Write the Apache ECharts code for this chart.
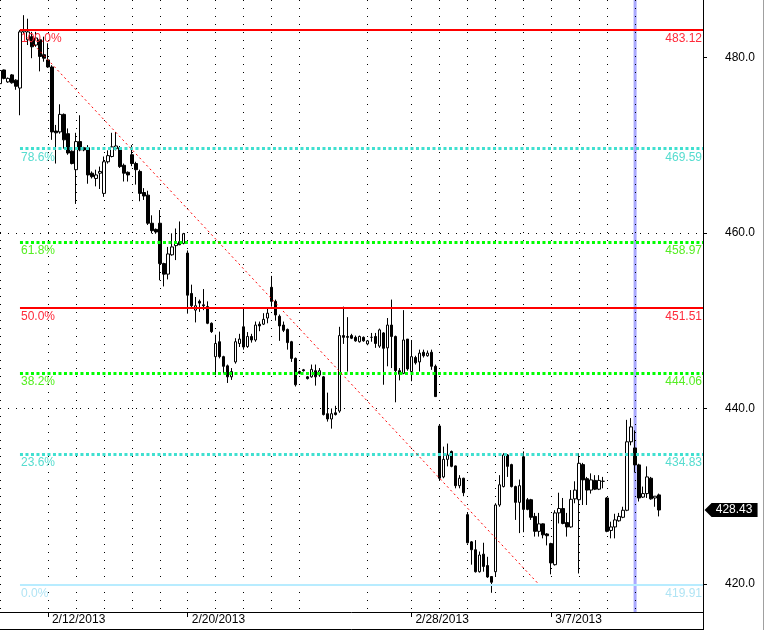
<!DOCTYPE html>
<html><head><meta charset="utf-8">
<script src="https://cdn.jsdelivr.net/npm/echarts@6/dist/echarts.min.js"></script>
<style>html,body{margin:0;padding:0;background:#fff}#c{width:768px;height:630px}</style>
</head><body><div id="c"></div>
<script>
// ---- sessions (trading days) and number of hourly bars in each ----
const sessions = ['2/11/2013','2/12/2013','2/13/2013','2/14/2013','2/15/2013','2/19/2013','2/20/2013','2/21/2013','2/22/2013','2/25/2013','2/26/2013','2/27/2013','2/28/2013','3/1/2013','3/4/2013','3/5/2013','3/6/2013','3/7/2013','3/8/2013','3/11/2013','3/12/2013'];
const barsPerSession = [12,7,7,7,7,7,7,7,7,7,17,11,7,7,7,7,7,7,7,7,7];
const labeledDates = ['2/12/2013','2/20/2013','2/28/2013','3/7/2013'];

// ---- OHLC values ----
const open = [477.0,478.56,477.2,478.0,477.4,476.5,482.9,482.0,482.35,481.4,482.0,480.3,479.7,478.9,471.6,471.5,473.5,471.3,469.3,467.2,
470.4,469.7,469.7,466.8,466.2,466.8,464.5,468.1,468.7,469.6,469.7,467.7,466.9,468.9,467.9,467.0,464.6,464.3,461.1,460.4,
461.1,456.5,455.3,457.5,458.55,459.0,458.8,457.7,453.1,451.2,452.2,451.8,451.6,449.7,445.9,447.6,445.9,444.85,443.6,445.3,
447.4,449.3,447.05,448.2,447.8,449.6,449.6,450.3,453.8,452.2,450.5,449.5,449.0,447.6,445.7,444.2,444.4,443.6,443.6,444.3,
443.8,443.6,439.4,438.8,439.5,439.7,448.3,448.2,448.3,448.1,447.6,448.1,447.35,448.1,448.2,447.1,448.6,446.9,449.5,448.2,
444.3,444.0,447.9,444.2,445.8,445.3,446.4,446.0,446.4,444.8,438.0,432.2,434.2,435.1,433.45,431.2,432.05,427.9,424.8,423.9,
421.4,423.4,422.1,420.85,421.4,429.0,431.1,434.7,433.6,431.1,429.3,434.5,429.6,429.6,427.7,426.0,426.85,425.7,424.6,422.2,
428.1,428.6,427.0,426.5,429.7,429.6,433.6,432.0,430.7,431.8,430.8,431.7,429.8,426.1,426.5,427.2,427.6,428.4,436.2,435.5,
433.57,429.9,430.3,432.05,429.8,430.15];
const high = [478.6,478.6,477.7,478.1,477.5,483.1,484.8,484.4,482.9,482.9,482.1,482.35,481.6,479.1,472.3,474.65,473.6,471.9,469.4,471.4,
473.4,469.8,470.0,467.0,467.2,467.55,468.7,469.4,471.4,471.5,469.9,467.9,467.0,470.0,468.1,467.2,465.1,464.8,462.0,460.5,
462.6,456.6,458.4,459.95,460.5,461.3,460.0,458.0,454.1,452.7,452.4,453.6,452.2,449.8,448.4,448.75,446.0,445.0,444.6,448.0,
448.5,451.5,448.7,448.5,449.9,449.9,450.85,451.4,455.1,452.4,450.7,449.9,449.1,447.7,445.8,444.3,444.5,443.7,445.0,445.0,
444.6,443.7,441.8,440.0,440.3,449.3,451.6,450.4,448.5,448.3,448.3,448.2,447.8,448.6,448.6,449.1,448.7,450.3,452.4,448.3,
444.6,451.2,447.9,447.8,446.0,446.7,446.7,446.6,446.7,445.0,438.1,435.65,436.0,435.2,433.5,432.4,432.1,428.1,424.9,425.0,
423.7,424.7,423.1,420.9,429.2,432.4,434.9,434.8,433.7,431.2,431.9,435.1,429.8,429.7,428.1,428.1,426.9,425.8,424.7,428.4,
430.4,429.8,428.1,430.7,431.7,434.9,433.8,432.2,432.6,432.4,432.4,432.2,429.9,427.1,428.0,428.1,428.8,438.7,438.9,437.5,
433.7,431.1,433.4,432.2,430.0,430.3];
const low = [476.9,477.5,477.1,477.0,476.3,473.4,482.7,481.4,479.9,481.2,478.4,479.5,478.8,470.6,467.9,471.3,469.6,468.9,467.8,463.3,
469.3,469.3,465.6,466.2,465.3,465.0,464.1,467.9,468.6,469.4,467.4,465.85,465.85,467.6,465.5,463.6,463.75,460.9,459.95,459.9,
454.6,453.9,454.7,457.4,456.9,458.6,458.7,450.8,451.5,449.8,451.0,451.2,449.6,448.6,443.8,445.7,444.0,442.9,443.25,445.1,
447.0,446.7,446.9,447.5,447.6,448.8,449.5,449.7,451.6,450.0,447.7,448.7,446.7,445.3,442.5,443.9,444.2,443.3,443.5,442.6,
443.6,439.2,438.5,437.7,439.2,439.5,447.35,444.2,447.9,447.6,447.5,447.6,447.2,447.6,446.9,446.9,442.7,444.8,444.6,440.7,
443.2,443.9,444.3,443.1,445.0,444.2,445.8,445.9,444.4,441.3,431.8,432.05,433.4,433.3,430.9,430.9,430.0,424.6,422.2,421.3,
421.3,421.4,420.7,419.0,420.85,428.8,431.0,432.2,431.0,427.3,425.8,425.9,428.4,427.3,425.4,425.4,425.2,424.4,421.1,422.1,
426.9,426.8,425.4,426.4,429.2,421.2,429.0,429.0,430.3,430.7,430.7,430.9,425.9,425.2,425.2,427.1,427.5,428.3,435.8,432.7,
429.4,429.8,429.8,429.6,428.8,427.7];
const close = [478.5,477.6,477.6,477.1,476.7,482.9,483.1,482.9,481.2,482.2,480.1,479.9,478.9,471.5,471.4,473.5,470.6,469.1,467.9,470.4,
469.45,469.45,466.6,466.4,466.6,467.0,468.1,468.8,469.8,469.9,467.55,466.8,466.6,467.9,467.2,464.5,464.2,461.1,460.25,460.1,
456.5,455.3,457.6,458.4,458.8,458.65,459.9,452.9,451.7,451.7,452.0,451.7,449.7,448.75,447.4,445.9,444.8,443.6,444.2,447.6,
447.9,447.0,448.2,447.8,449.5,449.4,450.15,450.85,452.2,450.65,449.4,448.9,447.5,445.7,442.7,444.0,444.3,443.4,444.45,443.6,
444.3,439.3,438.8,439.4,439.3,448.3,448.1,448.1,448.0,447.7,448.2,447.7,447.7,448.1,447.4,448.95,446.85,449.5,448.2,444.3,
443.9,447.8,444.5,445.9,445.2,446.3,446.0,446.3,444.8,441.35,432.05,434.2,434.7,433.4,431.2,432.05,430.4,424.7,423.9,421.4,
423.3,422.0,420.8,420.2,429.0,431.3,434.7,433.4,431.1,429.3,431.2,428.5,428.5,427.6,426.0,426.85,425.6,425.5,422.4,428.1,
428.6,426.9,426.5,429.65,430.7,433.75,431.86,430.7,431.86,430.8,431.8,431.7,426.0,426.5,427.3,427.7,428.4,436.2,437.9,433.57,
429.8,430.3,432.2,429.7,430.0,428.43];

// ---- Fibonacci retracement levels ----
const fibPercents = ['100.0%','78.6%','61.8%','50.0%','38.2%','23.6%','0.0%'];
const fibValues = [483.12,469.59,458.97,451.51,444.06,434.83,419.91];
const yTickValues = [420,440,460,480];
const cursorDate = '3/12/2013';
const trendFrom = {date:'2/11/2013', bar:6, value:483.12};
const trendTo = {date:'3/6/2013', bar:5, value:419.91};

// ---- build categories ----
const TOTAL = 177;
const categories = [];
const sessionStart = new Set();
const labelIdx = new Set();
const startOf = {};
sessions.forEach((d, s) => {
  for (let k = 0; k < barsPerSession[s]; k++) {
    if (k === 0) {
      sessionStart.add(categories.length);
      startOf[d] = categories.length;
      if (labeledDates.includes(d)) labelIdx.add(categories.length);
    }
    categories.push(d + ' #' + (k + 1));
  }
});
const nBars = categories.length;
while (categories.length < TOTAL) categories.push('pad ' + categories.length);

const yMin = 416.81, yMax = 486.53;
const FONT = 'Liberation Sans, Arial, sans-serif';

const fibStyle = [
  {c:'#ff0000', t:'#ff2a3a', w:2, type:'solid'},
  {c:'#40e0d0', t:'#55dccf', w:3, type:[3,2.5]},
  {c:'#00ff00', t:'#55ee22', w:3, type:[3,2.5]},
  {c:'#ff0000', t:'#ff2a3a', w:2, type:'solid'},
  {c:'#00ff00', t:'#55ee22', w:3, type:[3,2.5]},
  {c:'#40e0d0', t:'#55dccf', w:3, type:[3,2.5]},
  {c:'#b8ecff', t:'#b0e4f4', w:2, type:'solid'}
];
const fibStartIdx = trendFrom.bar - 1 + startOf[trendFrom.date];
const mlData = [];
fibValues.forEach((v, k) => {
  const s = fibStyle[k];
  mlData.push([
    {coord:[fibStartIdx, v], lineStyle:{color:s.c, width:s.w, type:s.type},
     label:{show:true, formatter:fibPercents[k], position:'insideStartBottom', distance:[1,3], color:s.t, fontSize:12, fontFamily:FONT}},
    {coord:[TOTAL-1, v]}
  ]);
  mlData.push([
    {coord:[fibStartIdx, v], lineStyle:{color:'rgba(0,0,0,0)', width:1, type:'solid'},
     label:{show:true, formatter:v.toFixed(2), position:'insideEndBottom', distance:[1,3], color:s.t, fontSize:12, fontFamily:FONT}},
    {coord:[TOTAL-1, v]}
  ]);
});
mlData.push([
  {coord:[fibStartIdx, trendFrom.value], lineStyle:{color:'#ff0000', width:1, type:[2,3]}, label:{show:false}},
  {coord:[startOf[trendTo.date] + trendTo.bar - 1, trendTo.value]}
]);

const cursorIdx = startOf[cursorDate];
const lastPrice = close[close.length - 1];

const chart = echarts.init(document.getElementById('c'), null, {renderer:'canvas'});
chart.setOption({
  animation:false,
  backgroundColor:'#fff',
  grid:{left:0, top:0, width:703, height:612, show:false},
  xAxis:{
    type:'category', data:categories, boundaryGap:false, z:1,
    axisLine:{show:true, lineStyle:{color:'#000', width:1}},
    axisTick:{show:true, interval:(i)=>labelIdx.has(i), length:5, lineStyle:{color:'#000'}},
    axisLabel:{interval:(i)=>labelIdx.has(i), formatter:(v)=>v.split(' #')[0], align:'left', padding:[0,0,0,4], margin:2, color:'#000', fontSize:12, fontFamily:FONT},
    splitLine:{show:true, interval:(i)=>sessionStart.has(i), lineStyle:{color:'#000', width:1, type:[1,7]}}
  },
  yAxis:{
    type:'value', position:'right', min:yMin, max:yMax, splitNumber:3, z:1,
    axisLine:{show:true, lineStyle:{color:'#000', width:1}},
    axisTick:{show:true, customValues:yTickValues, length:4, lineStyle:{color:'#000'}},
    axisLabel:{customValues:yTickValues, formatter:(v)=>Number(v).toFixed(1), margin:22, color:'#000', fontSize:12, fontFamily:FONT},
    splitLine:{show:true, showMinLine:false, showMaxLine:false, lineStyle:{color:'#000', width:1, type:[1,7]}}
  },
  series:[
    {type:'bar', name:'cursor', z:0, silent:true, barWidth:3,
     data:categories.map((c,i)=> i===cursorIdx ? yMax : null),
     itemStyle:{color:'#a9a9ff'}},
    {type:'candlestick', name:'price', z:2, barWidth:3,
     data:open.map((o,i)=>[o, close[i], low[i], high[i]]),
     itemStyle:{color:'#ffffff', color0:'#000000', borderColor:'#000000', borderColor0:'#000000', borderWidth:1}},
    {type:'line', name:'fib', zlevel:1, z:6, silent:true, data:[], showSymbol:false,
     markLine:{silent:true, animation:false, zlevel:1, z:10, symbol:['none','none'], data:mlData},
     markPoint:{silent:true, animation:false, zlevel:1, z:10,
       symbol:'path://M0,7L7,0L53,0L53,14L7,14Z', symbolSize:[53,14], symbolKeepAspect:false,
       symbolOffset:[72,0],
       itemStyle:{color:'#000'},
       label:{show:true, formatter:lastPrice.toFixed(2), color:'#fff', fontSize:12, fontFamily:FONT, offset:[3,0]},
       data:[{coord:[nBars-1, lastPrice], value:lastPrice}]}
    }
  ],
  graphic:[
    {type:'line', silent:true, shape:{x1:0, y1:629.5, x2:703.5, y2:629.5}, style:{stroke:'#000', lineWidth:1}},
    {type:'line', silent:true, shape:{x1:703.5, y1:612, x2:703.5, y2:630}, style:{stroke:'#000', lineWidth:1}},
    {type:'line', silent:true, shape:{x1:763.5, y1:0, x2:763.5, y2:630}, style:{stroke:'#a0a0a0', lineWidth:1}}
  ]
});
</script></body></html>
